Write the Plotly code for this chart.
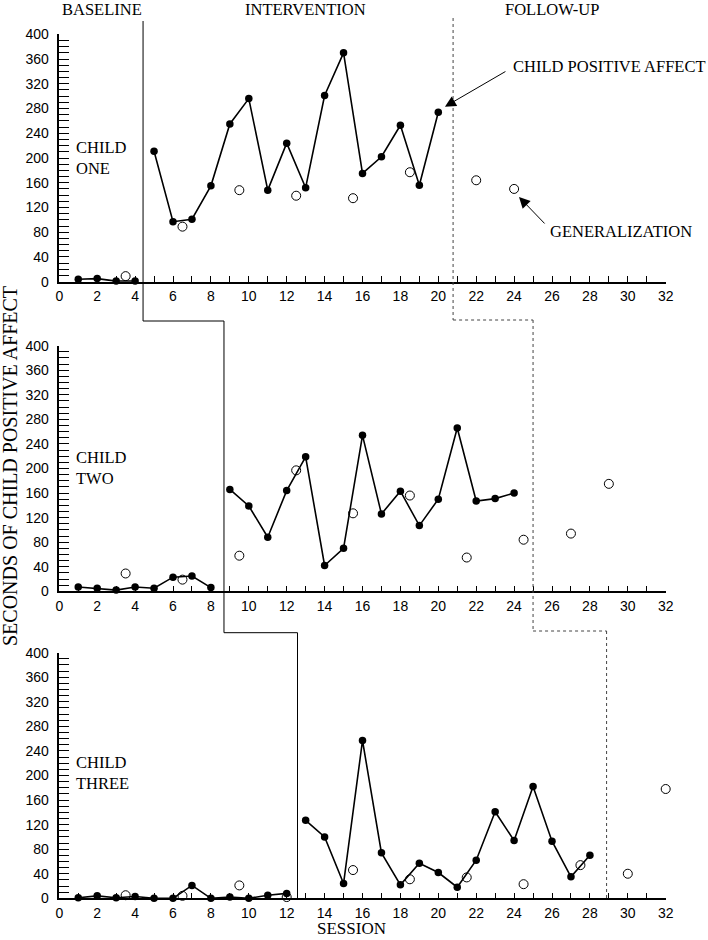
import plotly.graph_objects as go

# ---------------- data ----------------
# Child one
c1_base_x = [1, 2, 3, 4]
c1_base_y = [4, 5, 1, 1]
c1_int_x = list(range(5, 21))
c1_int_y = [211, 97, 101, 155, 255, 296, 148, 224, 152, 301, 370, 175, 202, 253, 156, 274]
c1_gen_x = [3.5, 6.5, 9.5, 12.5, 15.5, 18.5, 22, 24]
c1_gen_y = [9, 89, 148, 139, 135, 177, 164, 150]

# Child two
c2_base_x = list(range(1, 9))
c2_base_y = [7, 5, 2, 7, 5, 23, 25, 6]
c2_int_x = list(range(9, 25))
c2_int_y = [166, 139, 88, 164, 219, 42, 70, 254, 126, 163, 107, 150, 266, 147, 151, 160]
c2_gen_x = [3.5, 6.5, 9.5, 12.5, 15.5, 18.5, 21.5, 24.5, 27, 29]
c2_gen_y = [29, 19, 58, 197, 127, 156, 55, 84, 94, 175]

# Child three
c3_base_x = list(range(1, 13))
c3_base_y = [1, 4, 1, 3, 0, 0, 21, 0, 2, 0, 5, 8]
c3_int_x = list(range(13, 29))
c3_int_y = [127, 100, 24, 257, 74, 22, 57, 42, 18, 62, 141, 94, 182, 93, 35, 70]
c3_gen_x = [3.5, 6.5, 9.5, 12, 15.5, 18.5, 21.5, 24.5, 27.5, 30, 32]
c3_gen_y = [5, 4, 21, 2, 46, 31, 34, 23, 54, 40, 178]

# phase change positions (session units)
phase_int = [4.42, 8.69, 12.57]
phase_fu = [20.78, 25.0, 28.88]

x_tickvals = list(range(0, 33, 2))
y_tickvals = list(range(0, 401, 40))
child_names = ["CHILD<br>ONE", "CHILD<br>TWO", "CHILD<br>THREE"]

# ---------------- layout helpers ----------------
W, H = 708, 940
def X(px):
    return px / W
def Y(py):
    return 1 - py / H

SERIF = "Liberation Serif, Times New Roman, serif"
SANS = "Liberation Sans, Arial, sans-serif"

# pixel positions of panels: (top of 400, bottom at 0)
panels = [(34.3, 281.7), (345.7, 591.3), (652.7, 898.3)]
x_dom = [X(59.3), X(665.7)]

fig = go.Figure()

data = [
    (c1_base_x, c1_base_y, c1_int_x, c1_int_y, c1_gen_x, c1_gen_y),
    (c2_base_x, c2_base_y, c2_int_x, c2_int_y, c2_gen_x, c2_gen_y),
    (c3_base_x, c3_base_y, c3_int_x, c3_int_y, c3_gen_x, c3_gen_y),
]

for i, (bx, by, ix, iy, gx, gy) in enumerate(data):
    xa = "x" if i == 0 else f"x{i+1}"
    ya = "y" if i == 0 else f"y{i+1}"
    for sx, sy in [(bx, by), (ix, iy)]:
        fig.add_trace(go.Scatter(
            x=sx, y=sy, xaxis=xa, yaxis=ya, mode="lines+markers",
            line=dict(color="black", width=1.6),
            marker=dict(symbol="circle", size=7.5, color="black"),
            cliponaxis=False, showlegend=False, hoverinfo="x+y"))
    fig.add_trace(go.Scatter(
        x=gx, y=gy, xaxis=xa, yaxis=ya, mode="markers",
        marker=dict(symbol="circle-open", size=9, color="black", line=dict(width=1)),
        cliponaxis=False, showlegend=False, hoverinfo="x+y"))

layout = dict(
    width=W, height=H,
    margin=dict(l=0, r=0, t=0, b=0),
    paper_bgcolor="white", plot_bgcolor="white",
    showlegend=False,
)

for i, (top, bot) in enumerate(panels):
    xk = "xaxis" if i == 0 else f"xaxis{i+1}"
    yk = "yaxis" if i == 0 else f"yaxis{i+1}"
    ya = "y" if i == 0 else f"y{i+1}"
    xa = "x" if i == 0 else f"x{i+1}"
    layout[xk] = dict(
        domain=x_dom, anchor=ya, range=[0, 32],
        tickvals=x_tickvals, ticktext=[str(v) for v in x_tickvals],
        ticks="inside", ticklen=6, tickwidth=1, tickcolor="black",
        minor=dict(dtick=1, tick0=0, ticks="inside", ticklen=6, tickwidth=1, tickcolor="black"),
        showline=True, linecolor="black", linewidth=1.5,
        showgrid=False, zeroline=False, automargin=False,
        tickfont=dict(family=SANS, size=14, color="black"),
        ticklabelstandoff=1,
    )
    layout[yk] = dict(
        domain=[Y(bot), Y(top)], anchor=xa, range=[0, 400],
        tickvals=y_tickvals, ticktext=[str(v) for v in y_tickvals],
        ticks="inside", ticklen=10, tickwidth=1, tickcolor="black",
        minor=dict(dtick=10, tick0=0, ticks="inside", ticklen=10, tickwidth=1, tickcolor="black"),
        showline=True, linecolor="black", linewidth=1.5,
        showgrid=False, zeroline=False, automargin=False,
        tickfont=dict(family=SANS, size=14, color="black"),
        ticklabelstandoff=6,
    )

fig.update_layout(**layout)

# ---------------- phase change lines ----------------
solid = dict(color="black", width=1)
dotted = dict(color="#444444", width=1, dash="dot")
conn_int = [21, 321, 632.7, 898.3]
conn_fu = [18, 320, 631, 898.3]
shapes = []
for k in range(3):
    shapes.append(dict(type="line", xref="x", yref="paper",
                       x0=phase_int[k], x1=phase_int[k], y0=Y(conn_int[k]), y1=Y(conn_int[k+1]), line=solid))
    shapes.append(dict(type="line", xref="x", yref="paper",
                       x0=phase_fu[k], x1=phase_fu[k], y0=Y(conn_fu[k]), y1=Y(conn_fu[k+1]), line=dotted))
    if k < 2:
        shapes.append(dict(type="line", xref="x", yref="paper",
                           x0=phase_int[k], x1=phase_int[k+1], y0=Y(conn_int[k+1]), y1=Y(conn_int[k+1]), line=solid))
        shapes.append(dict(type="line", xref="x", yref="paper",
                           x0=phase_fu[k], x1=phase_fu[k+1], y0=Y(conn_fu[k+1]), y1=Y(conn_fu[k+1]), line=dotted))
fig.update_layout(shapes=shapes)

# ---------------- annotations ----------------
ann = []
def txt(text, x, y, size=16.5, xanchor="center", yanchor="middle", angle=0):
    ann.append(dict(text=text, x=x, y=y, xref="paper", yref="paper", showarrow=False,
                    xanchor=xanchor, yanchor=yanchor, textangle=angle,
                    font=dict(family=SERIF, size=size, color="black")))

txt("BASELINE", X(102), Y(9.5))
txt("INTERVENTION", X(305), Y(9.5))
txt("FOLLOW-UP", X(552), Y(9.5))

child_y = [158, 468, 773]
for name, cy in zip(child_names, child_y):
    ann.append(dict(text=name, x=X(74), y=Y(cy), xref="paper", yref="paper", showarrow=False,
                    xanchor="left", yanchor="middle", align="left",
                    font=dict(family=SERIF, size=16.5, color="black")))

txt("SECONDS OF CHILD POSITIVE AFFECT", X(10), Y(466), size=20, angle=-90)
txt("SESSION", X(351), Y(939.8), size=17, yanchor="bottom")

txt("CHILD POSITIVE AFFECT", X(511), Y(67), xanchor="left")
txt("GENERALIZATION", X(548), Y(231), xanchor="left")

# arrows
ann.append(dict(text="", x=20.35, y=283, xref="x", yref="y", ax=62, ay=-36,
                showarrow=True, arrowhead=2, arrowsize=2.2, arrowwidth=1, arrowcolor="black"))
ann.append(dict(text="", x=24.26, y=137, xref="x", yref="y", ax=27, ay=28,
                showarrow=True, arrowhead=2, arrowsize=2.2, arrowwidth=1, arrowcolor="black"))

fig.update_layout(annotations=ann)

fig.write_html(
    "out.html",
    config={"displayModeBar": False},
    post_script="document.body.style.margin='0';document.body.style.padding='0';document.body.style.overflow='hidden';",
)
